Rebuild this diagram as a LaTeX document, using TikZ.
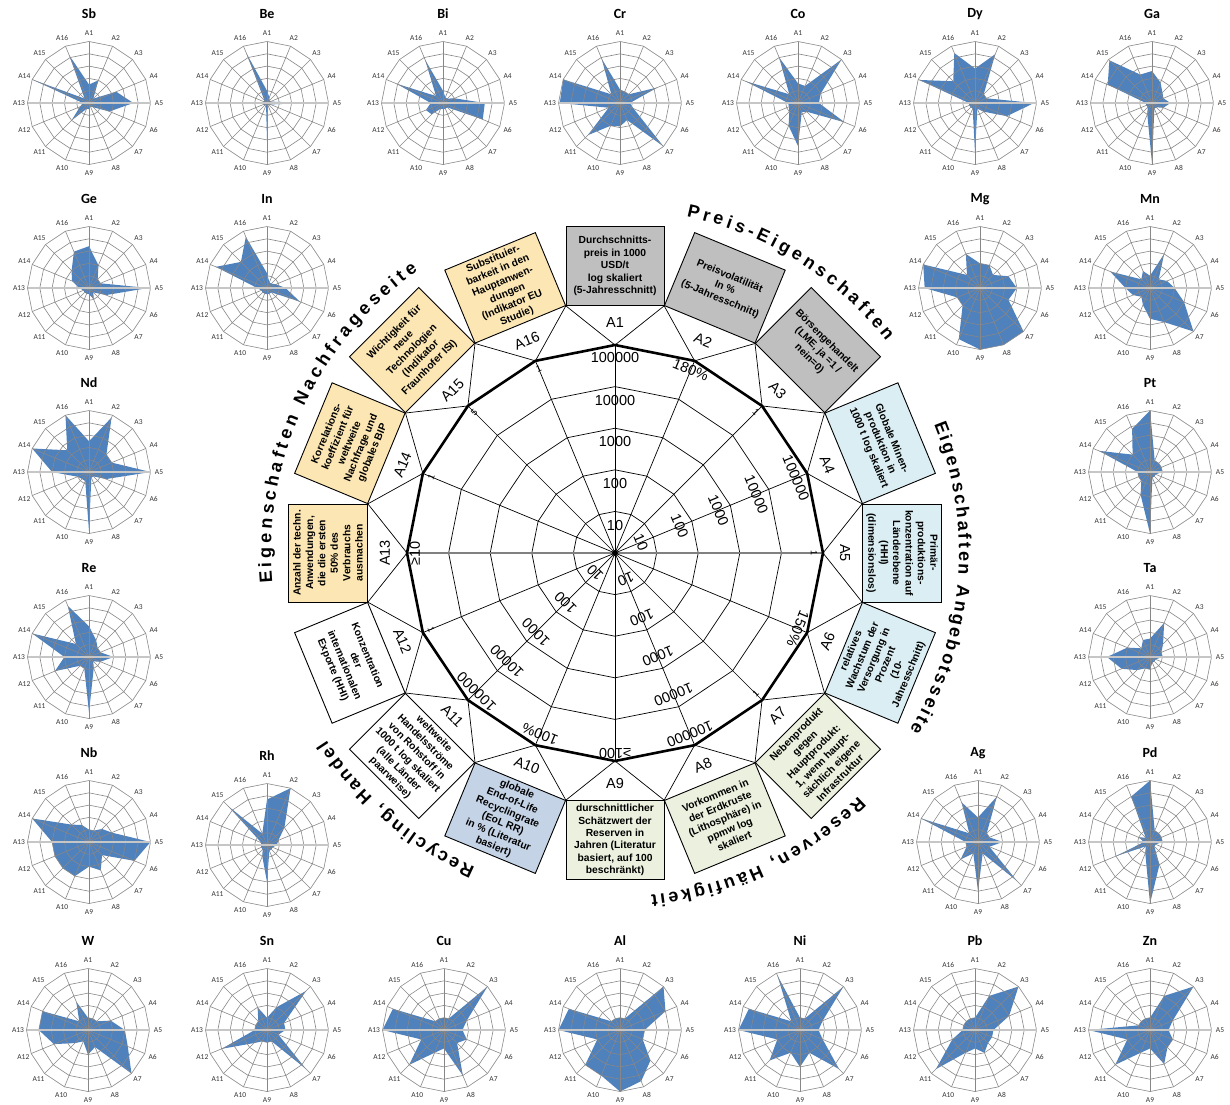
\documentclass[tikz,border=0pt]{standalone}
\usepackage{fontspec}
\setmainfont{Liberation Sans}
\newfontfamily\xlfont{Carlito}
\usepackage{xcolor}
\usepackage{tikz}
\usetikzlibrary{decorations.text}

\definecolor{pgray}{HTML}{BFBFBF}
\definecolor{pblue}{HTML}{DAEEF3}
\definecolor{pgreen}{HTML}{EBF1DE}
\definecolor{prec}{HTML}{C5D3E6}
\definecolor{pdem}{HTML}{FCE6B4}
\definecolor{rfill}{HTML}{4F81BD}
\definecolor{rgrid}{HTML}{878787}

\newcommand{\ttlfont}{\fontsize{18}{20}\selectfont\bfseries}
\def\getfirst#1,#2\endget{#1}

% small radar: name, x, y (pixels from top left), 16 values (0..5)
\newcommand{\minichart}[4]{%
  \begin{scope}[shift={(#2,-#3)}]
    \fill[rf] (90:{\getfirst#4\endget*12.3}) \foreach \v [count=\k] in {#4} {-- ({90-(\k-1)*22.5}:{\v*12.3})} -- cycle;
    \foreach \r in {12.3,24.6,36.9,49.2,61.5}
      \draw[rg] (90:\r) \foreach \k in {1,...,15} {-- ({90-\k*22.5}:\r)} -- cycle;
    \foreach \k in {1,...,16}{
      \draw[rg] (0,0) -- ({90-(\k-1)*22.5}:61.5);
      \node[rl] (#1a\k) at ({90-(\k-1)*22.5}:70) {A\k};
    }
    \draw[rax] (180:61.5) -- (0:61.5);
    \node[rt] (#1) at (0,89) {#1};
  \end{scope}}

\begin{document}
\begin{tikzpicture}[x=1pt,y=1pt,
  rg/.style={draw=rgrid,line width=0.6pt},
  rax/.style={draw=gray!45,line width=1.6pt},
  rf/.style={fill=rfill},
  rl/.style={font=\xlfont\fontsize{7.5}{8}\selectfont,text=black!80,inner sep=0pt},
  rt/.style={font=\xlfont\bfseries\fontsize{14}{16}\selectfont},
  ln/.style={line width=0.7pt},
  bx/.style={draw,line width=0.9pt,minimum width=98pt,minimum height=79pt,inner sep=1pt,align=center,font=\bfseries\fontsize{10.3}{12.4}\selectfont},
  ax/.style={font=\fontsize{14.5}{16}\selectfont,inner sep=0pt},
  mk/.style={font=\fontsize{9}{10}\selectfont,inner sep=0pt},
  grp/.style={decorate,decoration={text along path,text align=fit to path,text={|\ttlfont|#1}}}]
  \useasboundingbox (0,0) rectangle (1230,-1104);

  % central chart
  \begin{scope}[shift={(615,-553)}]
    \foreach \k in {1,...,16}{
      \coordinate (v\k) at ({90-(\k-1)*22.5}:208);
      \coordinate (o\k) at ({101.25-(\k-1)*22.5}:252);
    }
    \foreach \r in {41.6,83.2,124.8,166.4}
      \draw[ln] (90:\r) \foreach \k in {1,...,15} {-- ({90-\k*22.5}:\r)} -- cycle;
    \foreach \k in {1,...,16}
      \draw[ln] (0,0) -- (v\k);
    \draw[gray,line width=1.3pt] (v13) -- (v5);
    \foreach \k [evaluate=\k as \n using {int(mod(\k,16)+1)}] in {1,...,16}
      \draw[ln] (o\k) -- (v\k) -- (o\n);
    \draw[line width=2.6pt,line join=round] (v1) \foreach \k in {2,...,16} {-- (v\k)} -- cycle;
    \fill (0,0) circle (3);

    % scale values on the axes
    \foreach \a/\rot [count=\i] in {90/0,22.5/-67.5,-67.5/-157.5,-135/135}
      \foreach \r/\t [count=\j] in {28/10,70/100,112/1000,153/10000,196/100000}
        \node[ax,rotate=\rot] (s\i\j) at (\a:\r) {\t};
    \node[ax,rotate=-22.5] (p2) at (67.5:198) {180\%};
    \node[ax,rotate=-112.5] (p6) at (-22.5:198) {150\%};
    \node[ax,rotate=157.5] (p10) at (-112.5:196) {100\%};
    \node[ax,rotate=180] (p9) at (-90:200) {≥100};
    \node[ax,rotate=90] (p13) at (180:200) {≥10};
    \node[mk,rotate=-45] (m3) at (45:199) {1};
    \node[mk,rotate=-90] (m5) at (0:199) {1};
    \node[mk,rotate=45] (m7) at (-45:199) {1};
    \node[mk,rotate=-67.5] (m12) at (-157.5:199) {1};
    \node[mk,rotate=67.5] (m14) at (157.5:199) {1};
    \node[mk,rotate=45] (m15) at (135:199) {5};
    \node[mk,rotate=22.5] (m16) at (112.5:199) {1};

    % axis names
    \foreach \k/\rot in {1/0,2/-22.5,3/-45,4/-67.5,5/-90,6/67.5,7/45,8/22.5,
                         9/0,10/-22.5,11/-45,12/-67.5,13/90,14/67.5,15/45,16/22.5}
      \node[ax,rotate=\rot] (a\k) at ({90-(\k-1)*22.5}:230) {A\k};

    % description boxes
    \node[bx,fill=pgray] (b1) at (90:287) {Durchschnitts-\\preis in 1000\\USD/t\\log skaliert\\(5-Jahresschnitt)};
    \node[bx,fill=pgray,rotate=-22.5] (b2) at (67.5:287) {Preisvolatilität\\In \%\\(5-Jahresschnitt)};
    \node[bx,fill=pgray,rotate=-45] (b3) at (45:287) {Börsengehandelt\\(LME, ja =1 /\\nein=0)};
    \node[bx,fill=pblue,rotate=-67.5] (b4) at (22.5:287) {Globale Minen-\\produktion in\\1000 t log skaliert};
    \node[bx,fill=pblue,rotate=-90] (b5) at (0:287) {Primär-\\produktions-\\konzentration auf\\Länderebene\\(HHI)\\(dimensionslos)};
    \node[bx,fill=pblue,rotate=67.5] (b6) at (-22.5:287) {relatives\\Wachstum der\\Versorgung in\\Prozent\\(10-\\Jahresschnitt)};
    \node[bx,fill=pgreen,rotate=45] (b7) at (-45:287) {Nebenprodukt\\gegen\\Hauptprodukt:\\1, wenn haupt-\\sächlich eigene\\Infrastruktur};
    \node[bx,fill=pgreen,rotate=22.5] (b8) at (-67.5:287) {Vorkommen in\\der Erdkruste\\(Lithosphäre) in\\ppmw log\\skaliert};
    \node[bx,fill=pgreen] (b9) at (-90:287) {durschnittlicher\\Schätzwert der\\Reserven in\\Jahren (Literatur\\basiert, auf 100\\beschränkt)};
    \node[bx,fill=prec,rotate=-22.5] (b10) at (-112.5:287) {globale\\End-of-Life\\Recyclingrate\\(EoL RR)\\in \% (Literatur\\basiert)};
    \node[bx,fill=white,rotate=-45] (b11) at (-135:287) {weltweite\\Handelsströme\\von Rohstoff in\\1000 t log skaliert\\(alle Länder\\paarweise)};
    \node[bx,fill=white,rotate=-67.5] (b12) at (-157.5:287) {Konzentration\\der\\internationalen\\Exporte (HHI)};
    \node[bx,fill=pdem,rotate=90] (b13) at (180:287) {Anzahl der techn.\\Anwendungen,\\die die ersten\\50\% des\\Verbrauchs\\ausmachen};
    \node[bx,fill=pdem,rotate=67.5] (b14) at (157.5:287) {Korrelations-\\koeffizient für\\weltweite\\Nachfrage und\\globales BIP};
    \node[bx,fill=pdem,rotate=45] (b15) at (135:287) {Wichtigkeit für\\neue\\Technologien\\(Indikator\\Fraunhofer ISI)};
    \node[bx,fill=pdem,rotate=22.5] (b16) at (112.5:287) {Substituier-\\barkeit in den\\Hauptanwen-\\dungen\\(Indikator EU\\Studie)};

    % group titles
    \path[grp={Preis-Eigenschaften}] (78:344) arc[start angle=78,end angle=38,radius=344];
    \path[grp={Eigenschaften Angebotsseite}] (22:344) arc[start angle=22,end angle=-31,radius=344];
    \path[grp={Reserven, Häufigkeit}] (-45:344) arc[start angle=-45,end angle=-84,radius=344];
    \path[grp={Recycling, Handel}] (-114:344) arc[start angle=-114,end angle=-147,radius=344];
    \path[grp={Eigenschaften Nachfrageseite}] (-175:344) arc[start angle=-175,end angle=-235,radius=344];
  \end{scope}

  % element charts
  \minichart{Sb}{89}{103}{1.5,2,0.5,2.4,3.6,1.8,0.5,0.3,0.5,0.5,2,0.8,0.5,5,0.5,4.2}
  \minichart{Be}{267}{103}{1,0.5,0.3,0.3,3.4,0.3,0.2,0.2,3,0.2,0.3,0.3,0.3,0.3,0.3,4.4}
  \minichart{Bi}{443}{103}{1,0.5,0.5,1,3.4,3.5,0.5,0.5,0.5,0.5,1.3,1.5,1,4.1,0.8,3.8}
  \minichart{Cr}{620}{103}{1.1,1,1,3.3,0.8,1.2,5,1.5,1.9,2,3.7,1,4.9,5,1,3.9}
  \minichart{Co}{798}{103}{1.6,1.5,5,2,1.7,4.1,1,0.8,3.5,2,1,0.8,0.8,4.7,1,4}
  \minichart{Dy}{975}{103}{2.8,4.3,1,1,4.8,2.8,1,0.5,4,0.5,0.5,0.5,0.5,4.9,2.5,4.4}
  \minichart{Ga}{1152}{103}{2.6,1.8,1.2,1,1.5,1,0.5,0.5,4.9,1,0.5,0.5,0.5,3.9,4.9,2.5}
  \minichart{Ge}{89}{288}{3.4,2,1,1,4.8,1.5,0.5,1,0.5,0.5,0.5,0.5,0.8,1.5,2,3.2}
  \minichart{In}{267}{288}{1.2,0.5,0.5,0.8,1.5,2.9,0.5,0.5,0.5,0.5,0.5,0.5,0.8,4.5,3,4.5}
  \minichart{Mg}{980}{288}{2,2,1.5,2.5,3,2.5,5,5,5,4.5,2,2,4.5,5,1.5,3}
  \minichart{Mn}{1150}{288}{1,3,1,1.5,2,3,5,3,2.5,1.5,1,1.5,2,3.5,1,1.5}
  \minichart{Nd}{89}{472}{2.5,4.8,2,2,5,1.5,0.5,0.5,4.8,0.8,0.8,1,3,5,2.5,5}
  \minichart{Pt}{1150}{472}{5,1,1,1,1,0.5,0.5,0.5,5,2,1,1,1,4.5,2,3.8}
  \minichart{Re}{89}{657}{2.5,1.5,1,1,2,1,0.5,1,4.5,1,1,3,2,5,1.5,4.5}
  \minichart{Ta}{1150}{657}{1.5,3,1.5,1,1,0.5,0.5,0.5,1,1,1.5,2.5,3.5,2,1,1.5}
  \minichart{Nb}{89}{842}{1,1,1.5,2,5,4,1.5,2.5,2,3,3,3,3,5,2,1.5}
  \minichart{Rh}{267}{845}{3.7,5,2,1,0.8,0.5,0.5,0.5,3,1,0.5,0.5,0.5,0.5,4.5,1}
  \minichart{Ag}{978}{842}{2,4,1,1,2,1,4.5,1,4,1,2,1,1,5,1,3.5}
  \minichart{Pd}{1150}{842}{5,1,1,1,1,0.5,0.5,2,5,1,0.5,3,0.5,1,0.5,4}
  \minichart{W}{88}{1030}{1,1,1,2,3,3.5,5,1.5,2,1,1.5,3,4,4,1,2.5}
  \minichart{Sn}{267}{1030}{1,2,4.5,1.5,1.5,1,4.5,1,1,1,1.5,4,1,1,1,2}
  \minichart{Cu}{444}{1030}{1,1,5,2,1.5,2,1.5,4,1.5,2,4,2,5,4.5,1,1}
  \minichart{Al}{620}{1030}{1,1,5,4,2,2,3.5,4.5,5,4,4,2,5,4.5,1,1}
  \minichart{Ni}{800}{1030}{1,1,5,2,1.5,2,4.5,2,3,2,3.5,2,5,4.5,1,4.8}
  \minichart{Pb}{975}{1030}{1,3,5,3,1.5,1.5,1.5,2,1.5,2,4.5,2,1,1,1,1}
  \minichart{Zn}{1150}{1030}{1,3,5,2,1.5,2,2,3,1.5,2,4,2,5,1,1,1}
\end{tikzpicture}
\end{document}
